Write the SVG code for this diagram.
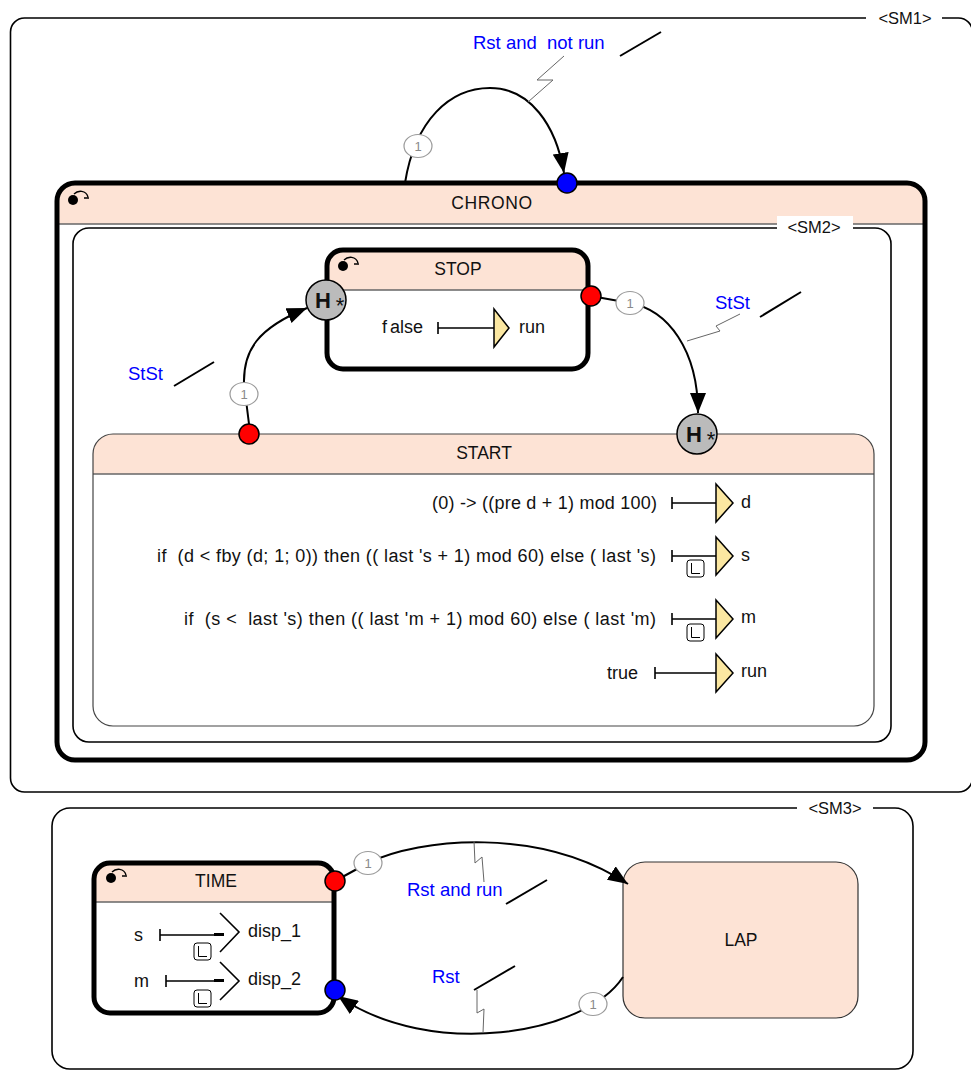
<svg xmlns="http://www.w3.org/2000/svg" width="971" height="1072" viewBox="0 0 971 1072">
<style>
text{font-family:"Liberation Sans",Arial,sans-serif;fill:#111;white-space:pre}
.nm{font-size:17.5px;text-anchor:middle}
.sm{font-size:16.5px;text-anchor:middle}
.eq{font-size:18px}
.bl{font-size:18.5px;fill:#0000ff}
.pr{font-size:13px;fill:#8a8a8a;text-anchor:middle}
.hh{font-size:22px;font-weight:bold;text-anchor:middle}
.st{font-size:22px;text-anchor:middle}
.frame{fill:none;stroke:#000;stroke-width:1.6}
.thick{fill:none;stroke:#000;stroke-width:5}
.thin{fill:none;stroke:#444;stroke-width:1.2}
.hdr{fill:#fde3d5}
.hl{stroke:#666;stroke-width:1.5}
.conn{fill:none;stroke:#000;stroke-width:2}
.zig{fill:none;stroke:#666;stroke-width:1}
.sl{stroke:#000;stroke-width:2}
.prio{fill:#fff;stroke:#999;stroke-width:1.2}
.red{fill:#ff0000;stroke:#000;stroke-width:1.5}
.blu{fill:#0000ff;stroke:#000;stroke-width:1.5}
.hist{fill:#bbbbbb;stroke:#000;stroke-width:1.5}
.tri{fill:#fbe7a1;stroke:#000;stroke-width:1.5}
.eqline{fill:none;stroke:#000;stroke-width:1.6}
.lbox{fill:#fff;stroke:#000;stroke-width:1}
.chev{fill:none;stroke:#000;stroke-width:1.6}
.init{fill:none;stroke:#000;stroke-width:1.4}
</style>
<defs>
<marker id="arr" markerUnits="userSpaceOnUse" markerWidth="20" markerHeight="16" refX="20" refY="8" orient="auto">
<path d="M0,0 L20,8 L0,16 Z" fill="#000"/>
</marker>
<g id="initIcon">
<circle cx="0" cy="0" r="5" fill="#000"/>
<path class="init" d="M1,-6 C5,-10 13,-10 15,-3 M11,-2 H16"/>
</g>
<g id="lIcon">
<rect class="lbox" x="0" y="0" width="17" height="17" rx="3"/>
<path d="M4.5,3 V13.5 H13" fill="none" stroke="#000" stroke-width="1"/>
</g>
</defs>
<rect width="971" height="1072" fill="#fff"/>

<g id="SM1">
<rect class="frame" x="10.5" y="18" width="962" height="774" rx="14"/>
<rect x="866" y="8" width="76" height="22" fill="#fff"/>
<text class="sm" x="905" y="24">&lt;SM1&gt;</text>
</g>

<g id="CHRONO">
<rect x="57" y="183" width="868" height="577" rx="18" fill="#fff"/>
<path class="hdr" d="M57,224 V201 A18,18 0 0 1 75,183 H907 A18,18 0 0 1 925,201 V224 Z"/>
<line class="hl" x1="57" y1="224" x2="925" y2="224"/>
<rect class="thick" x="57" y="183" width="868" height="577" rx="18"/>
<use href="#initIcon" x="73" y="200"/>
<text class="nm" x="492" y="209" letter-spacing="0.6">CHRONO</text>
</g>

<g id="SM2">
<rect class="frame" x="73" y="228" width="818" height="514" rx="16"/>
<rect x="777" y="216" width="76" height="22" fill="#fff"/>
<text class="sm" x="814" y="233">&lt;SM2&gt;</text>
</g>

<g id="STOP">
<rect x="327" y="250" width="261" height="119" rx="16" fill="#fff"/>
<path class="hdr" d="M327,290 V266 A16,16 0 0 1 343,250 H572 A16,16 0 0 1 588,266 V290 Z"/>
<line class="hl" x1="327" y1="290" x2="588" y2="290"/>
<rect class="thick" x="327" y="250" width="261" height="119" rx="16"/>
<use href="#initIcon" x="343" y="266"/>
<text class="nm" x="458" y="275">STOP</text>
<text class="eq" x="423" y="333" text-anchor="end">f<tspan dx="3">alse</tspan></text>
<path class="eqline" d="M438,322 V334 M438,328 H494"/>
<polygon class="tri" points="494,309 509,328 494,347"/>
<text class="eq" x="519" y="333">run</text>
<circle class="hist" cx="326" cy="300" r="20"/>
<text class="hh" x="323" y="308">H</text>
<text class="st" x="340" y="313">*</text>
</g>

<g id="START">
<rect x="93" y="434" width="781" height="292" rx="20" fill="#fff"/>
<path class="hdr" d="M93,474 V454 A20,20 0 0 1 113,434 H854 A20,20 0 0 1 874,454 V474 Z"/>
<line class="hl" x1="93" y1="474" x2="874" y2="474"/>
<rect class="thin" x="93" y="434" width="781" height="292" rx="20"/>
<text class="nm" x="484" y="459">START</text>

<text class="eq" x="657" y="509" text-anchor="end" textLength="225" lengthAdjust="spacing">(0) -&gt; ((pre d + 1) mod 100)</text>
<path class="eqline" d="M672,497 V509 M672,503 H716"/>
<polygon class="tri" points="716,484 733,503 716,522"/>
<text class="eq" x="741" y="508">d</text>

<text class="eq" x="157" y="562" textLength="499" lengthAdjust="spacing">if  (d &lt; fby (d; 1; 0)) then (( last 's + 1) mod 60) else ( last 's)</text>
<path class="eqline" d="M672,550 V562 M672,556 H716"/>
<use href="#lIcon" x="687" y="560"/>
<polygon class="tri" points="716,537 733,556 716,575"/>
<text class="eq" x="741" y="561">s</text>

<text class="eq" x="184" y="625" textLength="472" lengthAdjust="spacing">if  (s &lt;  last 's) then (( last 'm + 1) mod 60) else ( last 'm)</text>
<path class="eqline" d="M672,613 V625 M672,619 H716"/>
<use href="#lIcon" x="687" y="624"/>
<polygon class="tri" points="716,600 733,619 716,638"/>
<text class="eq" x="741" y="623">m</text>

<text class="eq" x="638" y="679" text-anchor="end">true</text>
<path class="eqline" d="M655,667 V679 M655,673 H716"/>
<polygon class="tri" points="716,654 733,673 716,692"/>
<text class="eq" x="741" y="677">run</text>

<circle class="hist" cx="697" cy="434" r="20"/>
<text class="hh" x="694" y="442">H</text>
<text class="st" x="711" y="447">*</text>
</g>

<g id="SM3">
<rect class="frame" x="52" y="808" width="861" height="261" rx="18"/>
<rect x="797" y="797" width="76" height="22" fill="#fff"/>
<text class="sm" x="835" y="814">&lt;SM3&gt;</text>
</g>

<g id="TIME">
<rect x="94" y="863" width="240" height="150" rx="16" fill="#fff"/>
<path class="hdr" d="M94,902 V879 A16,16 0 0 1 110,863 H318 A16,16 0 0 1 334,879 V902 Z"/>
<line class="hl" x1="94" y1="902" x2="334" y2="902"/>
<rect class="thick" x="94" y="863" width="240" height="150" rx="16"/>
<use href="#initIcon" x="111" y="878"/>
<text class="nm" x="216" y="887">TIME</text>
<text class="eq" x="134" y="941">s</text>
<path class="eqline" d="M160,929 V941 M160,935 H222"/>
<line x1="214" y1="934.5" x2="224" y2="934.5" stroke="#000" stroke-width="3"/>
<use href="#lIcon" x="194" y="943"/>
<polyline class="chev" points="220,913 239,932 220,952"/>
<text class="eq" x="248" y="937">disp_1</text>
<text class="eq" x="134" y="987">m</text>
<path class="eqline" d="M166,975 V987 M166,981 H222"/>
<line x1="214" y1="980.5" x2="224" y2="980.5" stroke="#000" stroke-width="3"/>
<use href="#lIcon" x="194" y="990"/>
<polyline class="chev" points="220,962 239,981 220,1000"/>
<text class="eq" x="248" y="985">disp_2</text>
</g>

<g id="LAP">
<rect x="623" y="862" width="235" height="156" rx="22" fill="#fde3d5" stroke="#333" stroke-width="1.2"/>
<text class="nm" x="741" y="946">LAP</text>
</g>

<g id="connectors">
<path class="conn" d="M405,183 C415,120 450,88 490,88 C530,88 556,125 564,173" marker-end="url(#arr)"/>
<polyline class="zig" points="564,56 537,80 553,80 528,102"/>
<line class="sl" x1="620" y1="56" x2="661" y2="32"/>
<text class="bl" x="473" y="49">Rst and  not run</text>
<ellipse class="prio" cx="418" cy="146" rx="14" ry="11.5"/>
<text class="pr" x="418" y="151">1</text>

<path class="conn" d="M249,424 L244,384 C243,350 258,328 307,308" marker-end="url(#arr)"/>
<line class="sl" x1="174" y1="386" x2="214" y2="362"/>
<text class="bl" x="128" y="380">StSt</text>
<ellipse class="prio" cx="244" cy="394" rx="14" ry="11.5"/>
<text class="pr" x="244" y="399">1</text>

<path class="conn" d="M591,296 L630,303 C668,310 698,350 698,413" marker-end="url(#arr)"/>
<polyline class="zig" points="740,314 716,326 720,331 687,341"/>
<line class="sl" x1="760" y1="317" x2="801" y2="292"/>
<text class="bl" x="715" y="309">StSt</text>
<ellipse class="prio" cx="630" cy="303" rx="14" ry="11.5"/>
<text class="pr" x="630" y="308">1</text>

<path class="conn" d="M335,881 L368,863 C420,838 540,826 628,884" marker-end="url(#arr)"/>
<polyline class="zig" points="474,841 475,863 482,857 484,882"/>
<line class="sl" x1="506" y1="904" x2="547" y2="880"/>
<text class="bl" x="407" y="896">Rst and run</text>
<ellipse class="prio" cx="368" cy="863" rx="14" ry="11.5"/>
<text class="pr" x="368" y="868">1</text>

<path class="conn" d="M623,977 C585,1035 430,1060 338,996" marker-end="url(#arr)"/>
<polyline class="zig" points="477,990 477,1013 484,1009 483,1033"/>
<line class="sl" x1="474" y1="990" x2="515" y2="966"/>
<text class="bl" x="432" y="983">Rst</text>
<ellipse class="prio" cx="593" cy="1004" rx="14" ry="11.5"/>
<text class="pr" x="593" y="1009">1</text>

<circle class="blu" cx="567" cy="183" r="10"/>
<circle class="red" cx="591" cy="296" r="10"/>
<circle class="red" cx="249" cy="434" r="10"/>
<circle class="red" cx="335" cy="881" r="10"/>
<circle class="blu" cx="335" cy="990" r="10"/>
</g>
</svg>
